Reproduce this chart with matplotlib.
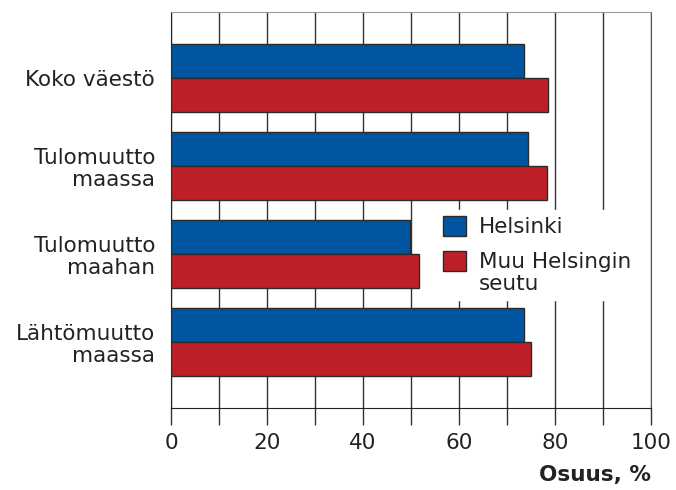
import numpy as np
from matplotlib import pyplot as plt
from matplotlib.ticker import MultipleLocator
from matplotlib.patches import Rectangle
from matplotlib.legend_handler import HandlerPatch

# categories (top to bottom) and shares, %
categories = ['Koko väestö', 'Tulomuutto\nmaassa', 'Tulomuutto\nmaahan', 'Lähtömuutto\nmaassa']
helsinki = [73.6, 74.4, 49.8, 73.5]
muu_seutu = [78.6, 78.3, 51.7, 75.1]
series_names = ['Helsinki', 'Muu Helsingin\nseutu']
x_ticks = [0, 20, 40, 60, 80, 100]

blue = '#0055a0'
red = '#bd2028'
edge = '#2b2b2b'
fs = 15.5
lsp = 1.1

plt.rcParams['font.family'] = ['DejaVu Sans']

fig = plt.figure(figsize=(6.76, 4.9), dpi=100)
ax = fig.add_axes([0.253, 0.1673, 0.71, 0.8082])

y = np.arange(len(categories))
h = 0.39
b1 = ax.barh(y - h / 2, helsinki, height=h, color=blue, edgecolor=edge, linewidth=1.0,
             label=series_names[0], zorder=3)
b2 = ax.barh(y + h / 2, muu_seutu, height=h, color=red, edgecolor=edge, linewidth=1.0,
             label=series_names[1], zorder=3)

ax.set_xlim(0, 100)
ax.set_ylim(3.75, -0.75)
ax.set_yticks(y)
ax.set_yticklabels(categories, fontsize=fs, color='#222222', multialignment='right',
                   linespacing=lsp)
ax.tick_params(axis='y', length=0, pad=11.5)

ax.set_xticks(x_ticks)
ax.xaxis.set_minor_locator(MultipleLocator(10))
ax.tick_params(axis='x', which='both', direction='out', length=12, width=1,
               color='#333333', labelsize=fs, labelcolor='#222222', pad=6)
ax.grid(axis='x', which='both', color='#333333', linewidth=1, zorder=0)
ax.set_axisbelow(True)

ax.spines['left'].set_color('#222222')
ax.spines['bottom'].set_color('#222222')
ax.spines['right'].set_color('#555555')
ax.spines['top'].set_color('#999999')

ax.set_xlabel('Osuus, %', fontsize=fs, fontweight='bold', color='#222222')
ax.xaxis.set_label_coords(1.0, -0.145)
ax.xaxis.label.set_horizontalalignment('right')


# legend box next to the first text line, not the last one
def first_line_box(shift):
    def make(legend, orig_handle, xdescent, ydescent, width, height, fontsize):
        return Rectangle((-xdescent, -ydescent + shift), width, height)
    return make


h1 = b1.patches[0]
h2 = b2.patches[0]
line_pt = fs * lsp * 0.55
leg = ax.legend([h1, h2], series_names, loc='upper left', bbox_to_anchor=(0.531, 0.528),
                fontsize=fs, frameon=True, fancybox=False, edgecolor='white',
                facecolor='white', framealpha=1, handlelength=1.05, handleheight=1.05,
                handletextpad=0.6, labelspacing=0.68, borderpad=0.3,
                handler_map={h1: HandlerPatch(patch_func=first_line_box(0)),
                             h2: HandlerPatch(patch_func=first_line_box(line_pt))})
leg.set_zorder(5)
for t in leg.get_texts():
    t.set_color('#222222')
    t.set_linespacing(lsp)

fig.savefig('out.png', dpi=100)
